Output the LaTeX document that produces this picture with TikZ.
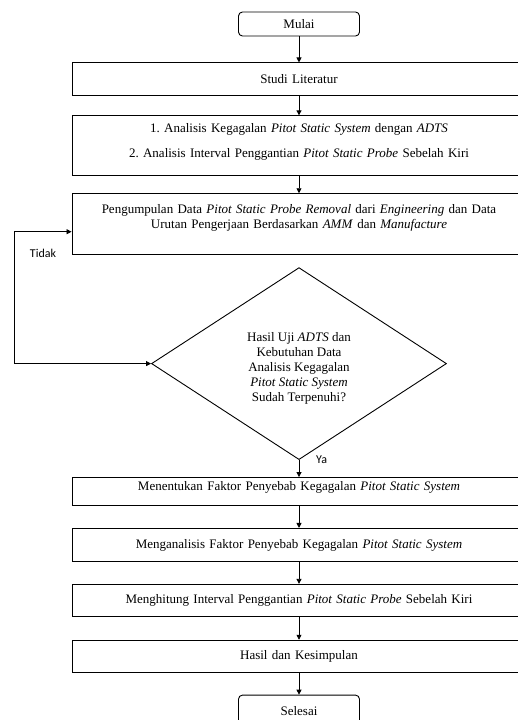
\documentclass[tikz,border=0pt]{standalone}
\usepackage{fontspec}
\setmainfont{Liberation Serif}
\newfontfamily\labelfont{Carlito}
\usetikzlibrary{shapes.geometric, arrows.meta, positioning}
\frenchspacing
\tikzset{
  stepbox/.style={rectangle, draw=black, line width=0.9pt, align=center,
    font=\fontsize{13}{15}\selectfont, minimum width=454pt, text width=440pt,
    inner sep=0pt},
  term/.style={rectangle, rounded corners=4pt, draw=black, line width=0.9pt,
    font=\fontsize{13}{15}\selectfont, minimum width=121pt, minimum height=24pt,
    inner sep=0pt},
  decide/.style={diamond, draw=black, line width=0.9pt, align=center,
    font=\fontsize{13}{15}\selectfont, minimum width=295pt, minimum height=192pt,
    inner sep=0pt},
  lbl/.style={font=\labelfont\fontsize{12}{14}\selectfont, inner sep=0pt},
  fa/.style={-{Triangle[length=5pt, width=5pt]}, line width=0.8pt},
  fb/.style={{Triangle[length=5pt, width=5pt]}-{Triangle[length=5pt, width=5pt]},
    line width=0.8pt},
}
\begin{document}
\begin{tikzpicture}
  \useasboundingbox (0,0) rectangle (517pt,-720pt);

  \node[term] (mulai) at (299pt,-24pt) {Mulai};
  \node[stepbox, minimum height=33pt, below=26pt of mulai] (studi) {Studi Literatur};
  \node[stepbox, minimum height=60pt, text depth=35pt, below=19pt of studi] (analisis)
    {1. Analisis Kegagalan \textit{Pitot Static System} dengan \textit{ADTS}\\[10pt]
     2. Analisis Interval Penggantian \textit{Pitot Static Probe} Sebelah Kiri};
  \node[stepbox, minimum height=61pt, text depth=31pt, below=17pt of analisis] (kumpul)
    {Pengumpulan Data \textit{Pitot Static Probe Removal} dari \textit{Engineering} dan Data\\
     Urutan Pengerjaan Berdasarkan \textit{AMM} dan \textit{Manufacture}};
  \node[decide, text height=79pt, below=12pt of kumpul] (cek)
    {Hasil Uji \textit{ADTS} dan\\Kebutuhan Data\\Analisis Kegagalan\\
     \textit{Pitot Static System}\\Sudah Terpenuhi?};
  \node[stepbox, minimum height=28pt, text depth=12pt, below=17pt of cek] (faktor)
    {Menentukan Faktor Penyebab Kegagalan \textit{Pitot Static System}};
  \node[stepbox, minimum height=33pt, below=22pt of faktor] (analisa)
    {Menganalisis Faktor Penyebab Kegagalan \textit{Pitot Static System}};
  \node[stepbox, minimum height=32pt, below=22pt of analisa] (hitung)
    {Menghitung Interval Penggantian \textit{Pitot Static Probe} Sebelah Kiri};
  \node[stepbox, minimum height=32pt, below=23pt of hitung] (hasil)
    {Hasil dan Kesimpulan};
  \node[term, minimum height=31pt, below=22pt of hasil] (selesai) {Selesai};

  \draw[fa] (mulai)    -- (studi);
  \draw[fa] (studi)    -- (analisis);
  \draw[fa] (analisis) -- (kumpul);
  \draw[fa] (cek)      -- (faktor);
  \draw[fa] (faktor)   -- (analisa);
  \draw[fa] (analisa)  -- (hitung);
  \draw[fa] (hitung)   -- (hasil);
  \draw[fa] (hasil)    -- (selesai);

  % loop back
  \coordinate (back)  at (14pt,0);
  \coordinate (masuk) at ([yshift=-7.5pt]kumpul.west);
  \draw[fb] (masuk) -- (masuk -| back) |- (cek.west);

  \node[lbl] (tidak) at (43pt,-253pt) {Tidak};
  \node[lbl, right=17pt of cek.south] (ya) {Ya};
\end{tikzpicture}
\end{document}
